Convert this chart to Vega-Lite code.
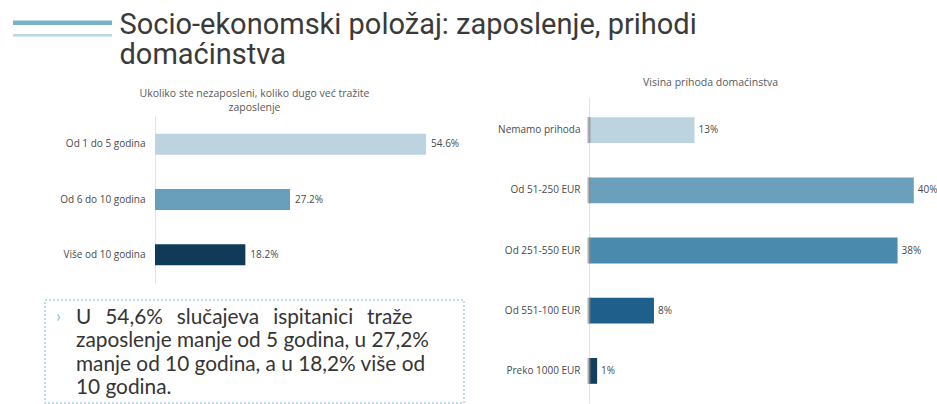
{
  "$schema": "https://vega.github.io/schema/vega-lite/v6.json",
  "background": "#ffffff",
  "padding": {"left": 10, "top": 10, "right": 0, "bottom": 0},
  "config": {
    "view": {"stroke": null},
    "font": "Open Sans",
    "axis": {"labelFont": "Open Sans", "labelFontSize": 10, "labelColor": "#4a4a4a", "domainColor": "#e0e0e0", "ticks": false},
    "title": {"font": "Open Sans", "fontWeight": "normal", "color": "#5a5a5a", "fontSize": 10.5}
  },
  "bounds": "flush",
  "spacing": 50,
  "resolve": {"scale": {"color": "independent", "strokeWidth": "independent"}},
  "vconcat": [
    {
      "width": 99,
      "height": 38,
      "layer": [
        {
          "data": {"values": [{"linija": "deblja"}, {"linija": "tanja"}]},
          "mark": {"type": "rule"},
          "encoding": {
            "y": {"field": "linija", "type": "nominal", "scale": {"type": "point", "domain": ["deblja", "tanja"], "padding": 1.63}, "axis": null},
            "color": {"field": "linija", "type": "nominal", "scale": {"type": "ordinal", "domain": ["deblja", "tanja"], "range": ["#79b3c6", "#b9d8e3"]}, "legend": null},
            "strokeWidth": {"field": "linija", "type": "ordinal", "scale": {"type": "ordinal", "domain": ["deblja", "tanja"], "range": [4.5, 2.5]}, "legend": null}
          }
        },
        {
          "data": {"values": [{"naslov": "Socio-ekonomski položaj: zaposlenje, prihodi\ndomaćinstva"}]},
          "mark": {"type": "text", "align": "left", "baseline": "alphabetic", "font": "Roboto", "fontSize": 29, "lineHeight": 30, "lineBreak": "\n", "color": "#3a3a3a", "dx": 57, "dy": 5},
          "encoding": {"text": {"field": "naslov"}}
        }
      ]
    },
    {
      "bounds": "flush",
      "spacing": 576,
      "resolve": {"scale": {"color": "independent"}},
      "hconcat": [
        {
          "bounds": "flush",
          "spacing": 30,
          "resolve": {"scale": {"color": "independent"}},
          "hconcat": [
            {"width": 2, "height": 1, "data": {"values": []}, "mark": "point"},
            {
              "bounds": "flush",
              "spacing": 17,
              "resolve": {"scale": {"color": "independent"}},
              "vconcat": [
                {"width": 2, "height": 1, "data": {"values": []}, "mark": "point"},
                {
                  "width": 419,
                  "height": 167,
                  "title": {"text": ["Ukoliko ste nezaposleni, koliko dugo već tražite", "zaposlenje"], "lineHeight": 13.5, "offset": 3, "anchor": "middle"},
                  "data": {"values": [
                    {"odgovor": "Od 1 do 5 godina", "udio": 0.546},
                    {"odgovor": "Od 6 do 10 godina", "udio": 0.272},
                    {"odgovor": "Više od 10 godina", "udio": 0.182}
                  ]},
                  "encoding": {
                    "y": {"field": "odgovor", "type": "nominal", "sort": null, "scale": {"paddingInner": 0.62, "paddingOuter": 0.321}, "axis": {"orient": "left", "offset": -110, "title": null, "labelPadding": 10, "domainColor": "#e3e3e3"}},
                    "x": {"field": "udio", "type": "quantitative", "scale": {"domain": [-0.22155, 0.62236], "nice": false}, "axis": null}
                  },
                  "layer": [
                    {
                      "mark": {"type": "bar"},
                      "encoding": {"color": {"field": "odgovor", "type": "nominal", "sort": null, "scale": {"domain": ["Od 1 do 5 godina", "Od 6 do 10 godina", "Više od 10 godina"], "range": ["#bcd4e0", "#6a9fbc", "#0f3a58"]}, "legend": null}}
                    },
                    {
                      "mark": {"type": "text", "align": "left", "dx": 5, "fontSize": 10, "color": "#4a4a4a"},
                      "encoding": {"text": {"field": "udio", "type": "quantitative", "format": ".1%"}}
                    }
                  ]
                },
                {
                  "width": 419,
                  "height": 103,
                  "view": {"stroke": "#a8cfe1", "strokeDash": [2, 2], "strokeWidth": 1.5},
                  "layer": [
                    {
                      "data": {"values": [
                        {"red": 1, "tekst": "U\u2005\u2006 54,6%\u2005\u2006 slučajeva\u2005\u2006 ispitanici\u2005\u2006 traže"},
                        {"red": 2, "tekst": "zaposlenje manje od 5 godina, u 27,2%"},
                        {"red": 3, "tekst": "manje od 10 godina, a u 18,2% više od"},
                        {"red": 4, "tekst": "10 godina."}
                      ]},
                      "mark": {"type": "text", "align": "left", "baseline": "alphabetic", "font": "Lato", "fontSize": 20.8, "color": "#353535", "dx": -178.5, "dy": 7.5},
                      "encoding": {
                        "y": {"field": "red", "type": "ordinal", "scale": {"type": "point", "padding": 0.739}, "axis": null},
                        "text": {"field": "tekst"}
                      }
                    },
                    {
                      "data": {"values": [{"red": 1, "znak": "›"}]},
                      "mark": {"type": "text", "align": "left", "baseline": "alphabetic", "font": "Lato", "fontSize": 18, "color": "#8cc1d8", "dx": -198.5, "dy": 5},
                      "encoding": {
                        "y": {"field": "red", "type": "ordinal", "axis": null},
                        "text": {"field": "znak"}
                      }
                    }
                  ]
                }
              ]
            }
          ]
        },
        {
          "width": 330,
          "height": 305,
          "title": {"text": "Visina prihoda domaćinstva", "frame": "bounds", "anchor": "middle", "offset": 10, "dx": -7},
          "data": {"values": [
            {"prihod": "Nemamo prihoda", "udio": 0.13},
            {"prihod": "Od 51-250 EUR", "udio": 0.40},
            {"prihod": "Od 251-550 EUR", "udio": 0.38},
            {"prihod": "Od 551-100 EUR", "udio": 0.08},
            {"prihod": "Preko 1000 EUR", "udio": 0.01}
          ]},
          "encoding": {
            "y": {"field": "prihod", "type": "nominal", "sort": null, "scale": {"paddingInner": 0.571, "paddingOuter": 0.319}, "axis": {"title": null, "labelPadding": 9, "domainColor": "#e3e3e3"}},
            "x": {"field": "udio", "type": "quantitative", "scale": {"domain": [0, 0.4064], "nice": false}, "axis": null}
          },
          "layer": [
            {
              "mark": {"type": "bar"},
              "encoding": {"color": {"field": "prihod", "type": "nominal", "sort": null, "scale": {"domain": ["Nemamo prihoda", "Od 51-250 EUR", "Od 251-550 EUR", "Od 551-100 EUR", "Preko 1000 EUR"], "range": ["#bcd4e0", "#6aa0bb", "#4a8aad", "#1f5f8b", "#153d5c"]}, "legend": null}}
            },
            {
              "mark": {"type": "tick", "orient": "vertical", "size": 26, "thickness": 3, "color": "#8d8d8d"},
              "encoding": {"x": {"datum": 0}}
            },
            {
              "mark": {"type": "text", "align": "left", "dx": 4, "fontSize": 10, "color": "#4a4a4a"},
              "encoding": {"text": {"field": "udio", "type": "quantitative", "format": ".0%"}}
            }
          ]
        }
      ]
    }
  ]
}
